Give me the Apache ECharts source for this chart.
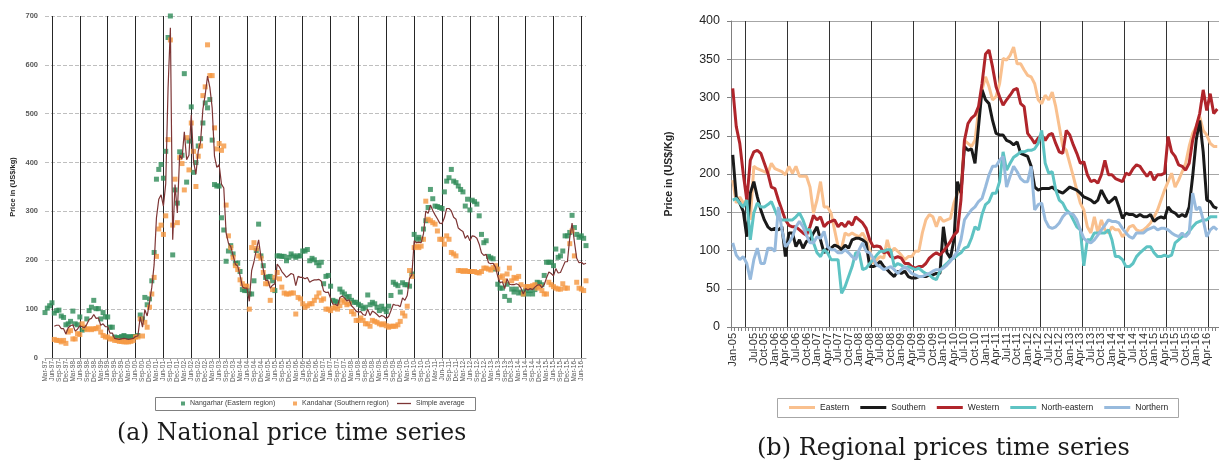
<!DOCTYPE html>
<html>
<head>
<meta charset="utf-8">
<script src="https://cdn.jsdelivr.net/npm/echarts@6/dist/echarts.min.js"></script>
<style>
html,body{margin:0;padding:0;background:#fff;}
#chart{width:1219px;height:466px;}
</style>
</head>
<body>
<div id="chart"></div>
<script>
// ---------- tick labels ----------
const MONTHS = ['Jan','Feb','Mar','Apr','May','Jun','Jul','Aug','Sep','Oct','Nov','Dec'];
function monthLabels(year, month, n) {
  const out = [];
  for (let i = 0; i < n; i++) {
    const k = month - 1 + i;
    out.push(MONTHS[k % 12] + '-' + String((year + Math.floor(k / 12)) % 100).padStart(2, '0'));
  }
  return out;
}
const nationalMonths = monthLabels(1997, 3, 234);   // Mar-97 .. Aug-16
const regionalMonths = monthLabels(2005, 1, 139);   // Jan-05 .. Jul-16

// ---------- (a) National price series (US$/kg), monthly from Mar-97 ----------
const nangarhar = [
  93,102,107,113,92,97,98,86,83,68,70,75,
  96,70,68,84,57,60,80,97,104,118,101,101,
  80,93,84,84,63,63,43,41,42,44,46,44,
  42,44,43,44,46,88,80,124,109,121,158,216,
  366,386,396,368,423,656,700,211,344,317,422,415,
  582,360,444,514,380,400,434,449,481,522,512,529,
  446,355,352,352,287,262,198,219,230,213,194,194,
  177,140,138,138,131,131,158,220,274,209,189,165,
  166,167,158,138,209,209,208,208,199,206,213,209,
  206,209,209,219,219,222,199,204,201,195,189,196,
  152,167,169,147,118,116,114,141,135,131,124,126,
  118,114,114,110,107,101,104,129,109,114,111,104,
  97,106,100,95,106,128,155,151,148,135,154,150,
  150,147,172,253,243,247,243,264,281,308,345,326,
  311,310,308,306,340,362,369,386,362,359,352,345,
  340,311,325,303,323,320,315,291,253,236,240,208,
  205,203,182,151,143,143,126,151,118,141,135,141,
  133,135,131,138,131,138,131,140,155,154,150,169,
  196,196,196,189,223,206,209,219,250,250,257,292,
  267,253,247,250,245,230
];
const kandahar = [
  null,null,null,null,38,36,36,33,36,30,53,56,
  39,39,50,48,70,63,58,60,58,60,60,63,
  53,46,43,43,39,39,36,36,34,34,33,33,
  33,34,36,43,43,80,45,73,63,104,131,165,
  208,264,272,253,291,447,651,272,366,277,410,398,
  344,451,385,481,423,351,413,434,537,555,641,578,
  578,471,428,439,425,434,313,250,226,206,189,181,
  160,152,147,147,100,226,236,224,209,204,175,152,
  152,118,140,165,175,162,145,133,131,131,133,133,
  90,124,121,111,104,107,111,111,118,125,133,118,
  121,100,100,97,102,104,100,107,118,114,109,111,
  95,90,77,77,82,77,70,70,65,77,75,73,
  70,68,70,66,63,65,65,65,68,75,92,86,
  106,179,167,226,229,226,229,243,321,284,281,277,
  274,260,243,243,233,250,243,216,213,209,179,179,
  177,179,177,177,177,177,175,174,177,184,184,182,
  180,185,189,182,165,168,158,172,184,158,165,163,
  167,150,131,146,146,146,148,150,143,146,138,131,
  131,155,150,146,143,141,141,152,143,143,234,260,
  209,155,143,141,138,158
];
const simpleAverage = [
  null,null,null,null,65,67,67,60,60,49,62,66,
  68,55,59,66,64,62,69,79,81,89,81,82,
  67,70,64,64,51,51,40,39,38,39,40,39,
  38,39,40,44,45,84,63,99,86,113,145,191,
  287,325,334,311,357,552,676,242,355,297,416,407,
  463,406,415,498,402,376,424,442,509,539,577,554,
  512,413,390,396,356,348,256,235,228,210,192,188,
  169,146,143,143,116,179,197,222,242,207,182,159,
  159,143,149,152,192,186,177,171,165,169,173,171,
  148,167,165,165,162,165,155,158,160,160,161,157,
  137,134,135,122,110,110,107,124,127,123,117,119,
  107,102,96,94,95,89,87,100,87,96,93,89,
  84,87,85,81,85,97,110,108,108,105,123,118,
  128,163,170,240,236,237,236,254,301,296,313,302,
  293,285,276,275,287,306,306,301,288,284,266,262,
  259,245,251,240,250,249,245,233,215,210,212,195,
  193,194,186,167,154,156,142,162,151,150,150,152,
  150,143,131,142,139,142,140,145,149,150,144,150,
  164,176,173,168,183,174,175,186,197,197,246,276,
  238,204,195,196,192,194
];

// ---------- (b) Regional prices (US$/Kg), monthly from Jan-05 ----------
const eastern = [
  192,162,170,162,166,140,210,207,205,203,201,214,
  207,205,203,199,210,201,210,197,197,197,183,149,
  166,190,157,157,149,127,105,103,123,120,123,120,
  118,123,114,101,83,88,92,90,114,97,103,99,
  94,88,92,92,99,99,123,140,147,144,131,144,
  138,140,142,162,175,183,244,240,236,244,283,310,
  327,314,297,301,318,351,349,355,366,344,344,336,
  329,327,318,297,292,303,297,307,288,262,236,231,
  214,197,179,162,153,131,123,144,123,140,127,123,
  131,127,127,118,123,131,133,127,125,127,131,136,
  144,153,166,179,190,201,183,192,203,214,236,253,
  262,275,257,251,240,236,236
];
const southern = [
  225,170,162,151,118,175,190,170,153,140,131,127,
  129,127,131,92,123,123,105,114,103,112,114,123,
  131,114,97,103,103,107,105,101,107,103,114,116,
  116,114,110,79,79,81,86,79,75,70,66,73,
  70,73,66,64,64,66,66,66,68,68,70,70,
  131,97,90,114,190,175,236,231,233,214,262,310,
  297,292,270,253,251,251,244,242,238,242,227,225,
  223,210,183,179,181,181,181,183,179,177,175,179,
  183,181,179,175,170,168,166,162,166,179,170,162,
  166,170,157,142,149,147,147,144,147,144,144,147,
  138,142,144,142,157,151,149,144,147,144,157,197,
  244,270,229,166,164,157,155
];
const western = [
  312,262,240,200,166,218,229,231,227,214,201,183,
  181,166,153,140,133,131,131,127,123,120,131,146,
  140,144,131,136,138,140,131,136,131,138,133,144,
  140,136,129,114,105,106,105,97,99,92,90,92,
  90,83,83,79,77,79,79,83,90,94,97,94,
  99,105,112,120,125,166,244,266,273,277,288,318,
  357,362,340,314,301,290,297,303,310,312,292,288,
  253,247,240,247,251,244,251,253,240,229,227,257,
  251,238,227,214,216,199,190,192,188,199,218,199,
  199,194,192,190,201,199,207,212,210,203,197,203,
  192,199,199,201,249,229,223,212,210,205,214,244,
  262,279,310,283,305,279,285
];
const northEastern = [
  166,168,162,157,166,114,149,162,157,157,160,164,
  153,142,140,140,140,140,144,149,140,127,127,110,
  97,92,101,97,88,88,88,44,53,66,79,97,
  97,75,77,83,88,94,99,99,101,101,79,83,
  81,77,79,77,75,77,73,70,68,64,62,73,
  79,83,88,90,94,97,103,105,116,131,127,147,
  160,164,175,175,190,229,205,214,222,225,229,229,
  231,231,233,240,257,214,201,203,179,166,162,153,
  149,140,131,127,80,114,114,123,123,123,123,127,
  114,92,92,88,79,79,83,92,97,101,105,105,
  97,92,92,94,92,94,110,114,118,120,125,131,
  136,138,140,140,144,144,144
];
const northern = [
  110,94,88,92,83,62,88,103,83,83,103,103,
  99,157,127,105,110,118,131,138,131,120,110,110,
  118,116,125,105,101,101,97,97,101,97,92,88,
  101,110,99,97,90,81,79,75,77,79,75,70,
  75,79,75,70,68,66,66,68,70,73,75,75,
  77,81,86,92,99,114,140,147,153,157,164,168,
  183,199,210,210,218,223,183,197,210,203,194,190,
  190,210,153,160,162,140,131,129,131,136,144,149,
  149,147,140,127,116,112,110,114,120,127,133,140,
  138,138,136,129,123,118,116,123,123,123,127,129,
  131,127,129,129,127,123,120,118,123,118,123,175,
  153,157,140,118,127,131,127
];

const seriesNamesA = ['Nangarhar (Eastern region)', 'Kandahar (Southern region)', 'Simple average'];
const seriesNamesB = ['Eastern', 'Southern', 'Western', 'North-eastern', 'Northern'];
const colorsB = ['#f9c08e', '#1a1a1a', '#b0252b', '#5ec3c3', '#97badd'];
const regional = [eastern, southern, western, northEastern, northern];

const chart = echarts.init(document.getElementById('chart'), null, {renderer: 'canvas'});

const option = {
  animation: false,
  backgroundColor: '#ffffff',
  textStyle: {fontFamily: 'Liberation Sans, Arial, sans-serif'},
  grid: [
    {left: 45, right: 633, top: 16, bottom: 108},
    {left: 731, right: -4, top: 21, bottom: 139}
  ],
  xAxis: [
    {
      gridIndex: 0, type: 'category', data: nationalMonths, boundaryGap: false,
      axisLine: {lineStyle: {color: '#a6a6a6'}},
      axisTick: {show: true, interval: 2, length: 3, lineStyle: {color: '#a6a6a6'}},
      axisLabel: {interval: 2, rotate: 90, fontSize: 6.5, color: '#595959', margin: 3, showMinLabel: true, hideOverlap: false},
      splitLine: {show: true, interval: function (i, v) { return String(v).indexOf('Jun') === 0; },
                  lineStyle: {color: '#262626', width: 1}}
    },
    {
      gridIndex: 1, type: 'category', data: regionalMonths, boundaryGap: true,
      axisLine: {lineStyle: {color: '#808080'}},
      axisTick: {show: true, interval: 0, length: 4, lineStyle: {color: '#808080'}},
      axisLabel: {interval: 2, rotate: 90, fontSize: 11, color: '#333333', margin: 6, showMinLabel: true, hideOverlap: false},
      splitLine: {show: true, interval: function (i, v) { return String(v).indexOf('May') === 0; },
                  lineStyle: {color: '#333333', width: 1}}
    }
  ],
  yAxis: [
    {
      gridIndex: 0, type: 'value', min: 0, max: 700, interval: 100,
      axisLine: {show: false}, axisTick: {show: false},
      axisLabel: {fontSize: 7.5, fontWeight: 'bold', color: '#595959', margin: 7},
      splitLine: {show: true, lineStyle: {color: '#bfbfbf', type: [4, 2]}},
      name: 'Price in (US$/kg)', nameLocation: 'middle', nameGap: 28,
      nameTextStyle: {fontSize: 7.5, fontWeight: 'bold', color: '#262626'}
    },
    {
      gridIndex: 1, type: 'value', min: 0, max: 400, interval: 50,
      axisLine: {show: true, lineStyle: {color: '#808080'}},
      axisTick: {show: true, length: 4, lineStyle: {color: '#808080'}},
      axisLabel: {fontSize: 12.5, color: '#262626', margin: 11},
      splitLine: {show: true, lineStyle: {color: '#a6a6a6', width: 1}},
      name: 'Price in (US$/Kg)', nameLocation: 'middle', nameGap: 56,
      nameTextStyle: {fontSize: 10.5, fontWeight: 'bold', color: '#262626'}
    }
  ],
  legend: [
    {data: [seriesNamesA[0]], left: 181, top: 400, icon: 'rect', itemWidth: 4, itemHeight: 4, padding: 0,
     textStyle: {fontSize: 7, color: '#404040'}},
    {data: [seriesNamesA[1]], left: 293, top: 400, icon: 'rect', itemWidth: 4, itemHeight: 4, padding: 0,
     textStyle: {fontSize: 7, color: '#404040'}},
    {data: [seriesNamesA[2]], left: 397, top: 400, icon: 'rect', itemWidth: 14, itemHeight: 1.3, padding: 0,
     textStyle: {fontSize: 7, color: '#404040'}},
    {data: seriesNamesB, left: 789, top: 403, icon: 'rect', itemWidth: 26, itemHeight: 3, itemGap: 11, padding: 0,
     textStyle: {fontSize: 8.5, color: '#262626'}}
  ],
  graphic: [
    {type: 'rect', shape: {x: 155.5, y: 397.5, width: 320, height: 13},
     style: {fill: 'transparent', stroke: '#808080', lineWidth: 1}, z: 0},
    {type: 'rect', shape: {x: 777.5, y: 398.5, width: 401, height: 19},
     style: {fill: 'transparent', stroke: '#a6a6a6', lineWidth: 1}, z: 0},
    {type: 'text', x: 117, y: 434,
     style: {text: '(a) National price time series', font: '23.5px "DejaVu Serif"', fill: '#1a1a1a', verticalAlign: 'middle'}},
    {type: 'text', x: 757, y: 449,
     style: {text: '(b) Regional prices time series', font: '24px "DejaVu Serif"', fill: '#1a1a1a', verticalAlign: 'middle'}}
  ],
  series: [
    {name: seriesNamesA[0], type: 'scatter', xAxisIndex: 0, yAxisIndex: 0, data: nangarhar,
     symbol: 'rect', symbolSize: 5, itemStyle: {color: '#2e8b57'}},
    {name: seriesNamesA[1], type: 'scatter', xAxisIndex: 0, yAxisIndex: 0, data: kandahar,
     symbol: 'rect', symbolSize: 5, itemStyle: {color: '#f5963f'}},
    {name: seriesNamesA[2], type: 'line', xAxisIndex: 0, yAxisIndex: 0, data: simpleAverage,
     symbol: 'none', showSymbol: false, connectNulls: false,
     itemStyle: {color: '#7d3535'}, lineStyle: {color: '#7d3535', width: 1.2}}
  ].concat(seriesNamesB.map(function (name, i) {
    return {
      name: name, type: 'line', xAxisIndex: 1, yAxisIndex: 1, data: regional[i],
      symbol: 'none', showSymbol: false,
      itemStyle: {color: colorsB[i]}, lineStyle: {color: colorsB[i], width: 3}
    };
  }))
};
chart.setOption(option);
</script>
</body>
</html>
